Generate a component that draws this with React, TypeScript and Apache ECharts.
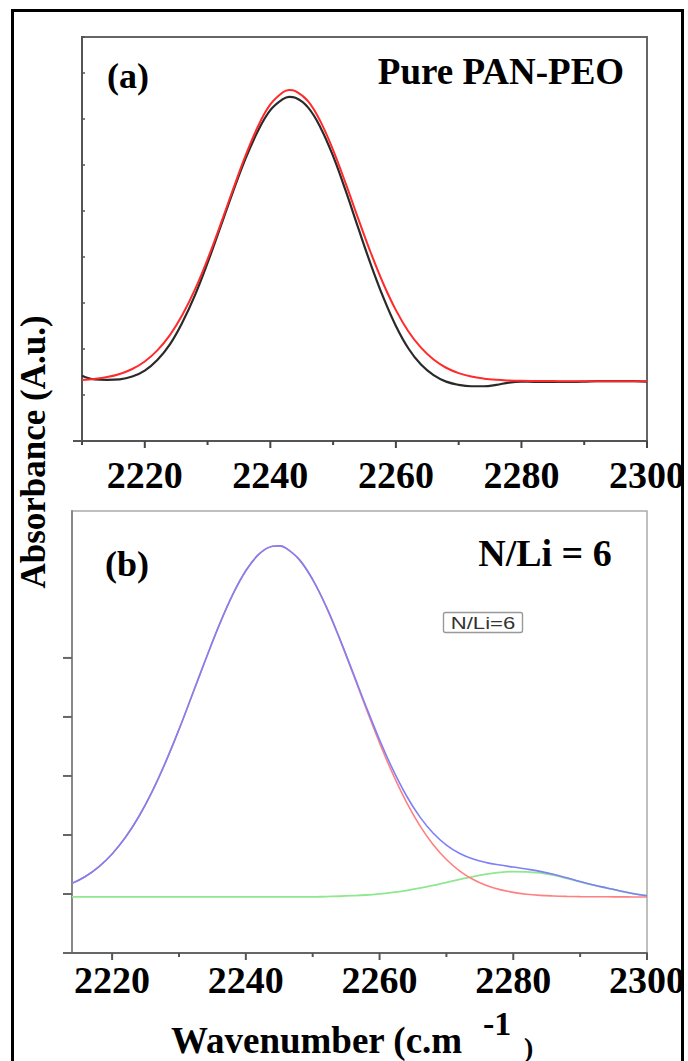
import React, { useEffect, useRef } from "react";
import * as echarts from "echarts";

// ---------- Panel (a): Pure PAN-PEO ----------
const topWavenumbers = [
  2210, 2212, 2214, 2216, 2218, 2220, 2222, 2224, 2226, 2228, 2230, 2232, 2234, 2236, 2238, 2240,
  2242, 2243, 2244, 2246, 2248, 2250, 2252, 2254, 2256, 2258, 2260, 2262, 2264, 2266, 2268, 2270,
  2272, 2274, 2276, 2278, 2280, 2282, 2284, 2286, 2288, 2290, 2292, 2294, 2296, 2298, 2300,
];
const topMeasured = [
  1.42, 1.34, 1.33, 1.34, 1.4, 1.53, 1.76, 2.1, 2.58, 3.17, 3.87, 4.63, 5.4, 6.12, 6.73, 7.19,
  7.43, 7.48, 7.46, 7.25, 6.81, 6.19, 5.44, 4.63, 3.84, 3.12, 2.5, 2.01, 1.66, 1.43, 1.29, 1.22,
  1.19, 1.19, 1.22, 1.27, 1.29, 1.285, 1.285, 1.285, 1.285, 1.29, 1.3, 1.3, 1.3, 1.3, 1.29,
];
const topFit = [
  1.326, 1.349, 1.389, 1.457, 1.565, 1.729, 1.969, 2.302, 2.743, 3.294, 3.949, 4.682, 5.446, 6.185,
  6.829, 7.314, 7.58, 7.63, 7.605, 7.387, 6.941, 6.323, 5.598, 4.833, 4.091, 3.417, 2.844, 2.381,
  2.028, 1.77, 1.592, 1.475, 1.4, 1.355, 1.329, 1.315, 1.307, 1.304, 1.302, 1.301, 1.3, 1.3, 1.3,
  1.3, 1.3, 1.3, 1.3,
];
const topXTicks = [2210, 2220, 2230, 2240, 2250, 2260, 2270, 2280, 2290, 2300];
const topYTicks = [0];

// ---------- Panel (b): N/Li = 6 ----------
const bottomWavenumbers = [
  2214, 2216, 2218, 2220, 2222, 2224, 2226, 2228, 2230, 2232, 2234, 2236, 2238, 2240, 2242, 2244,
  2245, 2246, 2248, 2250, 2252, 2254, 2256, 2258, 2260, 2262, 2264, 2266, 2268, 2270, 2272, 2274,
  2276, 2278, 2280, 2282, 2284, 2286, 2288, 2290, 2292, 2294, 2296, 2298, 2300,
];
const bottomSum = [
  1.18, 1.297, 1.46, 1.678, 1.96, 2.313, 2.74, 3.235, 3.788, 4.379, 4.978, 5.552, 6.065, 6.478,
  6.762, 6.892, 6.899, 6.86, 6.666, 6.327, 5.877, 5.34, 4.76, 4.173, 3.613, 3.106, 2.669, 2.311,
  2.033, 1.829, 1.686, 1.592, 1.531, 1.49, 1.456, 1.422, 1.383, 1.334, 1.274, 1.21, 1.153, 1.102,
  1.051, 1.005, 0.97,
];
const bottomMain = [
  1.18, 1.297, 1.46, 1.678, 1.96, 2.313, 2.74, 3.235, 3.788, 4.379, 4.978, 5.552, 6.065, 6.478,
  6.762, 6.892, 6.899, 6.86, 6.666, 6.327, 5.87, 5.328, 4.739, 4.14, 3.561, 3.03, 2.561, 2.163,
  1.839, 1.584, 1.389, 1.246, 1.144, 1.074, 1.027, 0.996, 0.977, 0.966, 0.959, 0.955, 0.953, 0.952,
  0.951, 0.95, 0.95,
];
const bottomSide = [
  0.95, 0.95, 0.95, 0.95, 0.95, 0.95, 0.95, 0.95, 0.95, 0.95, 0.95, 0.95, 0.95, 0.95, 0.95, 0.95,
  0.95, 0.95, 0.95, 0.95, 0.957, 0.962, 0.971, 0.983, 1.002, 1.026, 1.058, 1.098, 1.144, 1.195,
  1.247, 1.296, 1.337, 1.366, 1.379, 1.376, 1.356, 1.318, 1.265, 1.205, 1.15, 1.1, 1.05, 1.005,
  0.97,
];
const bottomXTicks = [2220, 2230, 2240, 2250, 2260, 2270, 2280, 2290, 2300];
const bottomYTicks = [0, 1, 2, 3, 4, 5];

const labelledTicks = [2220, 2240, 2260, 2280, 2300];

const SERIF = "'Liberation Serif', 'Times New Roman', serif";

function pairs(xs: number[], ys: number[]) {
  return xs.map((x, i) => [x, ys[i]]);
}

function xTickSeries(axis: number, ticks: number[], color: string) {
  return {
    type: "custom",
    xAxisIndex: axis,
    yAxisIndex: axis,
    clip: false,
    silent: true,
    z: 5,
    data: ticks.map((v) => [v, 0]),
    renderItem: (_p: any, api: any) => {
      const v = api.value(0);
      const pt = api.coord([v, api.value(1)]);
      const len = v % 20 === 0 ? 7 : 4;
      return {
        type: "line",
        shape: { x1: pt[0], y1: pt[1], x2: pt[0], y2: pt[1] + len },
        style: { stroke: color, lineWidth: 2 },
      };
    },
  };
}

function yTickSeries(axis: number, xMin: number, ticks: number[], color: string) {
  return {
    type: "custom",
    xAxisIndex: axis,
    yAxisIndex: axis,
    clip: false,
    silent: true,
    z: 5,
    data: ticks.map((v) => [xMin, v]),
    renderItem: (_p: any, api: any) => {
      const pt = api.coord([api.value(0), api.value(1)]);
      return {
        type: "line",
        shape: { x1: pt[0] - 9, y1: pt[1], x2: pt[0], y2: pt[1] },
        style: { stroke: color, lineWidth: 2 },
      };
    },
  };
}

const tickLabelStyle = (margin: number) => ({
  show: true,
  margin,
  fontFamily: SERIF,
  fontWeight: "bold",
  fontSize: 38,
  color: "#000",
  formatter: (v: number) => (labelledTicks.includes(Math.round(v)) ? String(Math.round(v)) : ""),
});

export default function App() {
  const ref = useRef<HTMLDivElement>(null);

  useEffect(() => {
    if (!ref.current) return;
    const chart = echarts.init(ref.current, null, { renderer: "svg" });

    const txt = (x: number, y: number, text: string, size: number, extra: any = {}) => ({
      type: "text",
      x,
      y,
      z: 50,
      ...extra,
      style: {
        text,
        fill: "#000",
        fontFamily: SERIF,
        fontWeight: "bold",
        fontSize: size,
        align: "center",
        verticalAlign: "middle",
        ...(extra.style || {}),
      },
    });

    chart.setOption({
      animation: false,
      backgroundColor: "#fff",
      grid: [
        { left: 82, top: 37, width: 574, height: 404, show: true, borderColor: "#666", borderWidth: 2, containLabel: false },
        { left: 72, top: 511, width: 588, height: 442, show: true, borderColor: "#aaa", borderWidth: 1.5, containLabel: false },
      ],
      xAxis: [
        {
          gridIndex: 0,
          type: "value",
          min: 2210,
          max: 2300,
          interval: 10,
          axisLine: { show: true, lineStyle: { color: "#555", width: 2 } },
          axisTick: { show: false },
          splitLine: { show: false },
          axisLabel: tickLabelStyle(15),
        },
        {
          gridIndex: 1,
          type: "value",
          min: 2214,
          max: 2300,
          interval: 2,
          axisLine: { show: true, lineStyle: { color: "#666", width: 2 } },
          axisTick: { show: false },
          splitLine: { show: false },
          axisLabel: tickLabelStyle(8),
        },
      ],
      yAxis: [
        {
          gridIndex: 0,
          type: "value",
          min: 0,
          max: 8.78,
          interval: 1,
          axisLine: { show: true, lineStyle: { color: "#555", width: 2 } },
          axisTick: { show: true, inside: true, length: 3, lineStyle: { color: "#555", width: 1.5 } },
          axisLabel: { show: false },
          splitLine: { show: false },
        },
        {
          gridIndex: 1,
          type: "value",
          min: 0,
          max: 7.49,
          interval: 1,
          axisLine: { show: true, lineStyle: { color: "#888", width: 2 } },
          axisTick: { show: false },
          axisLabel: { show: false },
          splitLine: { show: false },
        },
      ],
      series: [
        {
          name: "Measured",
          type: "line",
          xAxisIndex: 0,
          yAxisIndex: 0,
          data: pairs(topWavenumbers, topMeasured),
          showSymbol: false,
          smooth: 0.4,
          lineStyle: { color: "#2a2a2a", width: 2.2 },
          z: 2,
        },
        {
          name: "Fit",
          type: "line",
          xAxisIndex: 0,
          yAxisIndex: 0,
          data: pairs(topWavenumbers, topFit),
          showSymbol: false,
          smooth: 0.4,
          lineStyle: { color: "#ff2a2a", width: 2 },
          z: 3,
        },
        {
          name: "Side",
          type: "line",
          xAxisIndex: 1,
          yAxisIndex: 1,
          data: pairs(bottomWavenumbers, bottomSide),
          showSymbol: false,
          smooth: 0.4,
          lineStyle: { color: "#8fe88f", width: 1.8 },
          z: 2,
        },
        {
          name: "Main",
          type: "line",
          xAxisIndex: 1,
          yAxisIndex: 1,
          data: pairs(bottomWavenumbers, bottomMain),
          showSymbol: false,
          smooth: 0.4,
          lineStyle: { color: "#ff8080", width: 1.6 },
          z: 3,
        },
        {
          name: "Sum",
          type: "line",
          xAxisIndex: 1,
          yAxisIndex: 1,
          data: pairs(bottomWavenumbers, bottomSum),
          showSymbol: false,
          smooth: 0.4,
          lineStyle: { color: "#7f7ff8", width: 1.6 },
          z: 4,
        },
        xTickSeries(0, topXTicks, "#444"),
        yTickSeries(0, 2210, topYTicks, "#555"),
        xTickSeries(1, bottomXTicks, "#555"),
        yTickSeries(1, 2214, bottomYTicks, "#666"),
      ],
      graphic: [
        {
          type: "rect",
          z: 100,
          shape: { x: 12.5, y: 10.5, width: 670, height: 1100 },
          style: { fill: "none", stroke: "#000", lineWidth: 3 },
        },
        txt(128, 76, "(a)", 36),
        txt(501, 71, "Pure PAN-PEO", 37),
        txt(127, 564, "(b)", 36),
        txt(545, 553, "N/Li = 6", 38),
        {
          type: "rect",
          z: 40,
          shape: { x: 443.5, y: 612.5, width: 79, height: 20, r: 2 },
          style: { fill: "#fff", stroke: "#999", lineWidth: 1.4 },
        },
        txt(483, 623, "N/Li=6", 17, {
          scaleX: 1.3,
          originX: 0,
          originY: 0,
          style: { fontFamily: "'Liberation Sans', Arial, sans-serif", fontWeight: "normal", fill: "#333" },
        }),
        txt(33, 452, "Absorbance (A.u.)", 35, { rotation: Math.PI / 2 }),
        txt(171, 1040, "Wavenumber (c.m", 37, { style: { align: "left" } }),
        txt(483, 1023, "-1", 34, { style: { align: "left" } }),
        txt(524, 1047, ")", 28, { style: { align: "left" } }),
      ],
    });

    return () => chart.dispose();
  }, []);

  return (
    <div
      ref={ref}
      style={{ position: "absolute", left: 0, top: 0, width: 688, height: 1061, background: "#fff" }}
    />
  );
}
